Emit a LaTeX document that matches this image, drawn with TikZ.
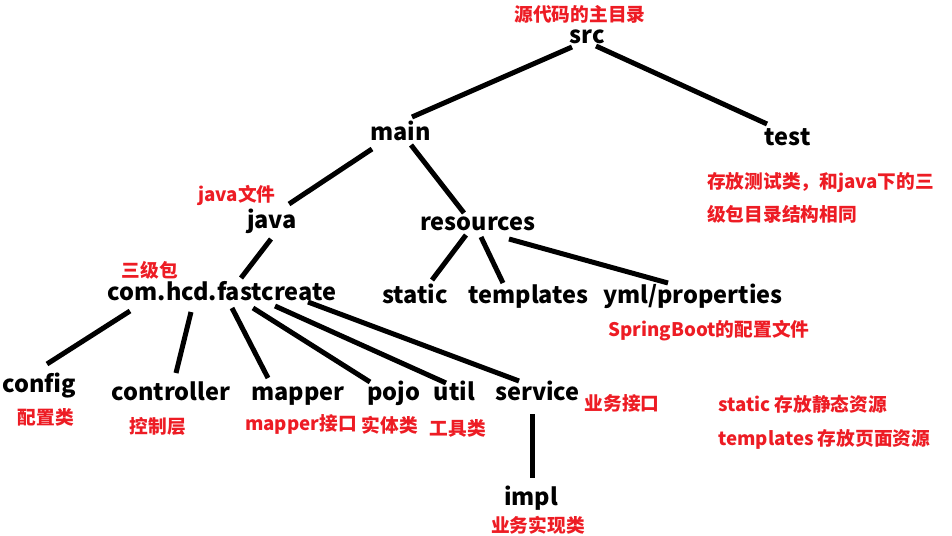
\documentclass[tikz,border=0pt]{standalone}
\usepackage{fontspec}
\setmainfont{Noto Sans CJK SC}
\definecolor{notered}{RGB}{237,28,36}
\tikzset{
    dir/.style ={
        inner sep = 0pt,        % 文字紧贴
        anchor    = base,       % 以基线定位
        font      = \bfseries\fontsize{23.5}{27}\selectfont
    },
    note/.style ={
        inner sep = 0pt,
        text      = notered,    % 红色说明
        font      = \bfseries\fontsize{18.7}{22}\selectfont
    },
    branch/.style ={
        line width = 5pt        % 粗黑连线
    }
}

\begin{document}
\begin{tikzpicture}[x=1pt,y=-1pt]
    \useasboundingbox (0,0) rectangle (952,535);
    % 目录
    \node[dir] (src) at(587,44) {src};
    \node[dir] (main) at(400.5,140) {main};
    \node[dir] (test) at(787.5,145) {test};
    \node[dir] (java) at(272,228) {java};
    \node[dir] (res) at(478,230) {resources};
    \node[dir] (pkg) at(222,300) {com.hcd.fastcreate};
    \node[dir] (static) at(415,303) {static};
    \node[dir] (tpl) at(528.5,303) {templates};
    \node[dir] (yml) at(693,303) {yml/properties};
    \node[dir] (config) at(39.5,392) {config};
    \node[dir] (ctrl) at(171,400) {controller};
    \node[dir] (mapper) at(298,400) {mapper};
    \node[dir] (pojo) at(393.5,400) {pojo};
    \node[dir] (util) at(454.5,400) {util};
    \node[dir] (service) at(537.5,400) {service};
    \node[dir] (impl) at(531,505) {impl};
    % 说明
    \node[note] (srcnote) at(580,14.5) {源代码的主目录};
    \node[note] (javanote) at(237,195) {java文件};
    \node[note, anchor=west, align=left, font=\bfseries\fontsize{18.7}{33}\selectfont] (testnote) at(707,197.5) {存放测试类，和java下的三\\级包目录结构相同};
    \node[note] (pkgnote) at(150,270) {三级包};
    \node[note] (ymlnote) at(709,331) {SpringBoot的配置文件};
    \node[note] (confignote) at(46,417) {配置类};
    \node[note] (ctrlnote) at(158,426) {控制层};
    \node[note] (mappernote) at(301,424.5) {mapper接口};
    \node[note] (pojonote) at(390,425) {实体类};
    \node[note] (utilnote) at(458,428) {工具类};
    \node[note] (servicenote) at(622,403) {业务接口};
    \node[note, anchor=west, align=left, font=\bfseries\fontsize{18.7}{34}\selectfont] (resnote) at(718,422) {static 存放静态资源\\templates 存放页面资源};
    \node[note] (implnote) at(538,525) {业务实现类};
    % 连线
    \draw[branch] ([shift={(-15,3)}]src.base) -- ([shift={(11.5,-23)}]main.base);
    \draw[branch] ([shift={(9,2)}]src.base) -- ([shift={(-20.5,-21)}]test.base);
    \draw[branch] ([shift={(-28.5,9)}]main.base) -- ([shift={(17,-24)}]java.base);
    \draw[branch] ([shift={(10.5,5)}]main.base) -- ([shift={(-14,-17)}]res.base);
    \draw[branch] ([shift={(-1,11)}]java.base) -- ([shift={(19,-22)}]pkg.base);
    \draw[branch] ([shift={(-12,5)}]res.base) -- ([shift={(17,-23)}]static.base);
    \draw[branch] ([shift={(3,7)}]res.base) -- ([shift={(-25.5,-20)}]tpl.base);
    \draw[branch] ([shift={(31,9)}]res.base) -- ([shift={(-25,-20)}]yml.base);
    \draw[branch] ([shift={(-92,11)}]pkg.base) -- ([shift={(7.5,-28)}]config.base);
    \draw[branch] ([shift={(-31,12)}]pkg.base) -- ([shift={(5,-27)}]ctrl.base);
    \draw[branch] ([shift={(10,8)}]pkg.base) -- ([shift={(-30,-22)}]mapper.base);
    \draw[branch] ([shift={(31,8)}]pkg.base) -- ([shift={(-23.5,-18)}]pojo.base);
    \draw[branch] ([shift={(53,6)}]pkg.base) -- ([shift={(-8.5,-17)}]util.base);
    \draw[branch] ([shift={(86,2)}]pkg.base) -- ([shift={(-18.5,-19)}]service.base);
    \draw[branch] ([shift={(-5.5,14)}]service.base) -- ([shift={(1,-27)}]impl.base);
\end{tikzpicture}
\end{document}
